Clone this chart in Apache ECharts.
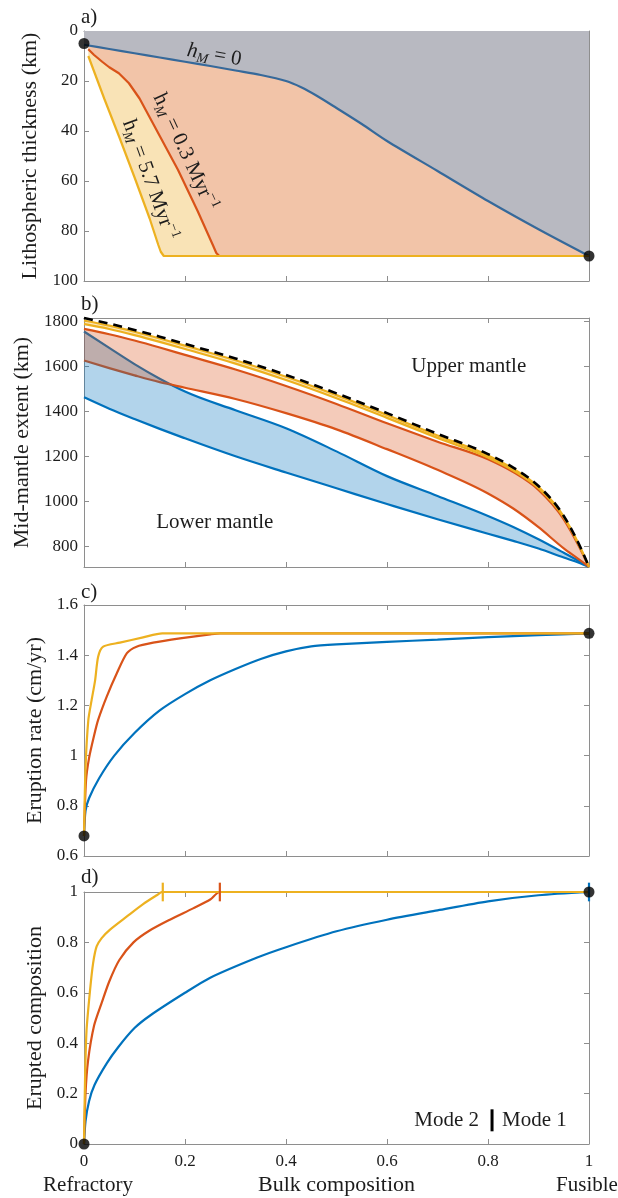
<!DOCTYPE html>
<html>
<head>
<meta charset="utf-8">
<script src="https://cdn.jsdelivr.net/npm/echarts@6/dist/echarts.min.js"></script>
<style>
  html, body { margin: 0; padding: 0; background: #fff; }
  #chart { width: 618px; height: 1198px; }
</style>
</head>
<body>
<div id="chart"></div>
<script>
// ---------------- data ----------------
const compTicks = [0, 0.2, 0.4, 0.6, 0.8, 1];

// a) lithospheric thickness (km) against bulk composition
const thickBlueX   = [0, 0.05, 0.1, 0.15, 0.2, 0.25, 0.3, 0.35, 0.4, 0.43, 0.46, 0.5, 0.55, 0.6, 0.7, 0.8, 0.9, 1];
const thickBlueY   = [5.5, 7.2, 8.9, 10.6, 12.3, 14.0, 15.8, 17.6, 20.0, 22.5, 25.8, 30.8, 37.2, 44.0, 56.0, 68.0, 79.3, 90];
const thickRedX    = [0.0085, 0.02, 0.036, 0.05, 0.069, 0.089, 0.11, 0.13, 0.15, 0.186, 0.225, 0.256, 0.262, 0.268, 1];
const thickRedY    = [7.3, 9.6, 12.3, 14.5, 16.9, 20.9, 27.0, 34.5, 42.0, 55.5, 72.0, 86.0, 88.8, 90, 90];
const thickYellowX = [0.0085, 0.04, 0.07, 0.1, 0.13, 0.147, 0.152, 0.158, 1];
const thickYellowY = [10, 27, 42.5, 58.5, 75, 85.5, 88.3, 90, 90];
const thickEnds    = [[0, 5], [1, 90]];
const thickTicks   = [0, 20, 40, 60, 80, 100];

// b) mid-mantle extent (km)
const mantleX       = [0, 0.05, 0.1, 0.15, 0.2, 0.3, 0.4, 0.5, 0.6, 0.7, 0.8, 0.85, 0.9, 0.95, 0.98, 1];
const mantleTop     = [1815, 1790, 1762, 1732, 1700, 1635, 1562, 1480, 1392, 1300, 1210, 1150, 1068, 935, 810, 708];
const yellowUpper   = [1804, 1781, 1754, 1724, 1692, 1627, 1554, 1472, 1384, 1293, 1204, 1145, 1064, 932, 808, 708];
const yellowLower   = [1788, 1766, 1739, 1709, 1677, 1612, 1539, 1458, 1371, 1282, 1195, 1137, 1058, 928, 805, 708];
const redUpper      = [1767, 1743, 1715, 1684, 1651, 1586, 1513, 1433, 1347, 1265, 1187, 1130, 1051, 920, 800, 708];
const redLower      = [1626, 1592, 1560, 1530, 1505, 1455, 1392, 1320, 1232, 1140, 1035, 968, 885, 791, 742, 708];
const blueUpper     = [1755, 1682, 1610, 1545, 1488, 1405, 1325, 1222, 1112, 1024, 935, 886, 831, 771, 734, 708];
const blueLower     = [1463, 1412, 1366, 1322, 1280, 1200, 1128, 1058, 988, 920, 856, 824, 790, 750, 727, 708];
const mantleTicks   = [800, 1000, 1200, 1400, 1600, 1800];

// c) eruption rate (cm/yr)
const rateBlueX   = [0, 0.003, 0.01, 0.03, 0.06, 0.1, 0.15, 0.2, 0.25, 0.3, 0.35, 0.4, 0.45, 0.5, 0.6, 0.7, 0.8, 0.9, 1];
const rateBlueY   = [0.68, 0.78, 0.83, 0.91, 1.0, 1.09, 1.18, 1.245, 1.30, 1.345, 1.385, 1.415, 1.435, 1.443, 1.453, 1.462, 1.472, 1.48, 1.487];
const rateRedX    = [0, 0.004, 0.01, 0.02, 0.028, 0.045, 0.065, 0.085, 0.104, 0.137, 0.19, 0.25, 0.27, 1];
const rateRedY    = [0.68, 0.90, 0.99, 1.08, 1.142, 1.235, 1.328, 1.408, 1.434, 1.45, 1.467, 1.483, 1.487, 1.487];
const rateYellowX = [0, 0.003, 0.0086, 0.015, 0.022, 0.028, 0.038, 0.071, 0.117, 0.155, 1];
const rateYellowY = [0.68, 0.95, 1.142, 1.22, 1.30, 1.394, 1.434, 1.45, 1.471, 1.487, 1.487];
const rateEnds    = [[0, 0.68], [1, 1.487]];
const rateTicks   = [0.6, 0.8, 1, 1.2, 1.4, 1.6];

// d) erupted composition
const compBlueX   = [0, 0.003, 0.01, 0.021, 0.045, 0.068, 0.1, 0.131, 0.2, 0.25, 0.343, 0.4, 0.5, 0.6, 0.7, 0.8, 0.9, 1];
const compBlueY   = [0, 0.09, 0.17, 0.235, 0.32, 0.385, 0.46, 0.51, 0.60, 0.66, 0.74, 0.781, 0.844, 0.89, 0.927, 0.963, 0.987, 1];
const compRedX    = [0, 0.003, 0.008, 0.02, 0.035, 0.05, 0.07, 0.098, 0.13, 0.17, 0.216, 0.25, 0.269, 1];
const compRedY    = [0, 0.2, 0.33, 0.47, 0.56, 0.645, 0.73, 0.8, 0.847, 0.89, 0.935, 0.97, 1, 1];
const compYellowX = [0, 0.002, 0.005, 0.012, 0.018, 0.025, 0.035, 0.051, 0.085, 0.117, 0.144, 0.155, 1];
const compYellowY = [0, 0.25, 0.45, 0.611, 0.717, 0.784, 0.817, 0.85, 0.903, 0.952, 0.987, 1, 1];
const modeSwitchX = [0.156, 0.269, 1];   // yellow, red, blue
const compEnds    = [[0, 0], [1, 1]];
const compTicksY  = [0, 0.2, 0.4, 0.6, 0.8, 1];

// ---------------- styling ----------------
const FONT = 'Liberation Serif';
const AXIS = '#8e8e8e';
const INK = '#1c1c1c';
const BLUE = '#0072bd', RED = '#d95319', YELLOW = '#edb120';

const zip = (xs, ys) => xs.map((x, i) => [x, ys[i]]);
const plain = v => String(+v.toFixed(4));

const grids = [
  { left: 84, width: 505, top: 31,  height: 250 },
  { left: 84, width: 505, top: 318, height: 249 },
  { left: 84, width: 505, top: 605, height: 251 },
  { left: 84, width: 505, top: 892, height: 252 }
];

function xAxisFor(i, pos) {
  const bottom = pos === 'bottom';
  return {
    gridIndex: i, type: 'value', position: pos, min: 0, max: 1,
    axisLine: { onZero: false, lineStyle: { color: AXIS, width: 1 } },
    axisTick: { inside: true, length: 5, lineStyle: { color: AXIS }, customValues: compTicks },
    axisLabel: {
      show: bottom && i === 3, customValues: compTicks, margin: 9, formatter: plain,
      fontFamily: FONT, fontSize: 17, color: INK
    },
    splitLine: { show: false },
    name: (bottom && i === 3) ? 'Bulk composition' : '',
    nameLocation: 'middle', nameGap: 30,
    nameTextStyle: { fontFamily: FONT, fontSize: 22, color: INK }
  };
}

const yCfg = [
  { min: 0, max: 100, inverse: true, ticks: thickTicks, name: 'Lithospheric thickness (km)', gap: 38 },
  { min: 708, max: 1815, inverse: false, ticks: mantleTicks, name: 'Mid-mantle extent (km)', gap: 44 },
  { min: 0.6, max: 1.6, inverse: false, ticks: rateTicks, name: 'Eruption rate (cm/yr)', gap: 32 },
  { min: 0, max: 1, inverse: false, ticks: compTicksY, name: 'Erupted composition', gap: 33 }
];

function yAxisFor(i, pos) {
  const c = yCfg[i];
  const left = pos === 'left';
  return {
    gridIndex: i, type: 'value', position: pos, min: c.min, max: c.max, inverse: c.inverse,
    axisLine: { onZero: false, lineStyle: { color: AXIS, width: 1 } },
    axisTick: { inside: true, length: 5, lineStyle: { color: AXIS }, customValues: c.ticks },
    axisLabel: {
      show: left, customValues: c.ticks, margin: 6, formatter: plain,
      fontFamily: FONT, fontSize: 17, color: INK
    },
    splitLine: { show: false },
    name: left ? c.name : '',
    nameLocation: 'middle', nameGap: c.gap,
    nameTextStyle: { fontFamily: FONT, fontSize: 22, color: INK }
  };
}

const xAxes = [], yAxes = [];
for (let i = 0; i < 4; i++) { xAxes.push(xAxisFor(i, 'bottom')); yAxes.push(yAxisFor(i, 'left')); }
for (let i = 0; i < 4; i++) { xAxes.push(xAxisFor(i, 'top'));    yAxes.push(yAxisFor(i, 'right')); }

function line(g, data, color, extra) {
  return Object.assign({
    type: 'line', xAxisIndex: g, yAxisIndex: g, data: data,
    symbol: 'none', silent: true, z: 3,
    lineStyle: { color: color, width: 2.2 }
  }, extra || {});
}
function dots(g, data) {
  return {
    type: 'scatter', xAxisIndex: g, yAxisIndex: g, data: data,
    symbolSize: 11, itemStyle: { color: '#000' }, clip: false, silent: true, z: 10
  };
}

// monotone cubic segments through pixel points (x increasing)
function monoSegments(p) {
  const n = p.length, m = new Array(n);
  const h = [], s = [];
  for (let i = 0; i < n - 1; i++) {
    h[i] = p[i + 1][0] - p[i][0];
    s[i] = (p[i + 1][1] - p[i][1]) / h[i];
  }
  for (let i = 1; i < n - 1; i++) {
    const q = (s[i - 1] * h[i] + s[i] * h[i - 1]) / (h[i - 1] + h[i]);
    m[i] = (Math.sign(s[i - 1]) + Math.sign(s[i])) *
      Math.min(Math.abs(s[i - 1]), Math.abs(s[i]), 0.5 * Math.abs(q)) || 0;
  }
  m[0] = n > 2 ? (3 * s[0] - m[1]) / 2 : s[0];
  m[n - 1] = n > 2 ? (3 * s[n - 2] - m[n - 2]) / 2 : s[n - 2];
  const segs = [];
  for (let i = 0; i < n - 1; i++) {
    const d = h[i] / 3;
    segs.push([p[i], [p[i][0] + d, p[i][1] + m[i] * d], [p[i + 1][0] - d, p[i + 1][1] - m[i + 1] * d], p[i + 1]]);
  }
  return segs;
}
const f = v => v.toFixed(2);
function pathOf(segs, reverse, start) {
  let d = '';
  if (!reverse) {
    d += (start ? 'M' : 'L') + f(segs[0][0][0]) + ' ' + f(segs[0][0][1]);
    segs.forEach(s => { d += 'C' + f(s[1][0]) + ' ' + f(s[1][1]) + ' ' + f(s[2][0]) + ' ' + f(s[2][1]) + ' ' + f(s[3][0]) + ' ' + f(s[3][1]); });
  } else {
    const last = segs[segs.length - 1][3];
    d += (start ? 'M' : 'L') + f(last[0]) + ' ' + f(last[1]);
    for (let k = segs.length - 1; k >= 0; k--) {
      const s = segs[k];
      d += 'C' + f(s[2][0]) + ' ' + f(s[2][1]) + ' ' + f(s[1][0]) + ' ' + f(s[1][1]) + ' ' + f(s[0][0]) + ' ' + f(s[0][1]);
    }
  }
  return d;
}

// mantle boundary curve, projected through panel b's axes
function mantleCurve(ys, style, z) {
  return {
    type: 'custom', coordinateSystem: 'cartesian2d', xAxisIndex: 1, yAxisIndex: 1,
    data: [[mantleX[0], ys[0]]], silent: true, z: z, clip: false,
    renderItem: function (params, api) {
      const pts = mantleX.map((x, i) => api.coord([x, ys[i]]));
      return { type: 'path', shape: { pathData: pathOf(monoSegments(pts), false, true) },
               style: Object.assign({ fill: 'none', lineJoin: 'round' }, style) };
    }
  };
}
// translucent band between two mantle boundaries
function mantleBand(upper, lower, color, z) {
  return {
    type: 'custom', coordinateSystem: 'cartesian2d', xAxisIndex: 1, yAxisIndex: 1,
    data: [[mantleX[0], upper[0]]], silent: true, z: z, clip: true,
    renderItem: function (params, api) {
      const pu = mantleX.map((x, i) => api.coord([x, upper[i]]));
      const pl = mantleX.map((x, i) => api.coord([x, lower[i]]));
      const d = pathOf(monoSegments(pu), false, true) + pathOf(monoSegments(pl), true, false) + 'Z';
      return { type: 'path', shape: { pathData: d }, style: { fill: color, stroke: null } };
    }
  };
}

const hidden = { lineStyle: { width: 0, opacity: 0 } };
const SM = { smooth: 0.25 };

const series = [
  // ---- a) filled regions, then boundaries
  line(0, zip(thickYellowX, thickYellowY), YELLOW, Object.assign({ z: 1, areaStyle: { color: '#f9e3b6', opacity: 1 } }, hidden)),
  line(0, zip(thickRedX, thickRedY), RED, Object.assign({ z: 1, areaStyle: { color: '#f2c4a8', opacity: 1 } }, hidden)),
  line(0, zip(thickBlueX, thickBlueY), BLUE, Object.assign({ z: 1, smooth: 0.3, areaStyle: { color: '#b8b9c1', opacity: 1 } }, hidden)),
  line(0, zip(thickBlueX, thickBlueY), '#36699a', { smooth: 0.3 }),
  line(0, zip(thickRedX, thickRedY), RED),
  line(0, zip(thickYellowX, thickYellowY), YELLOW),
  dots(0, thickEnds),

  // ---- b) boundaries first, translucent bands over them
  mantleCurve(blueLower, { stroke: BLUE, lineWidth: 2.2 }, 3),
  mantleCurve(blueUpper, { stroke: BLUE, lineWidth: 2.2 }, 3),
  mantleCurve(redLower, { stroke: RED, lineWidth: 2.2 }, 3),
  mantleCurve(redUpper, { stroke: RED, lineWidth: 2.2 }, 3),
  mantleCurve(yellowLower, { stroke: YELLOW, lineWidth: 2.2 }, 3),
  mantleCurve(yellowUpper, { stroke: YELLOW, lineWidth: 2.2 }, 3),
  mantleBand(blueUpper, blueLower, 'rgba(0,114,189,0.3)', 4),
  mantleBand(redUpper, redLower, 'rgba(217,83,25,0.3)', 5),
  mantleBand(yellowUpper, yellowLower, 'rgba(237,177,32,0.3)', 5),
  mantleCurve(mantleTop, { stroke: '#000', lineWidth: 2.6, lineDash: [9, 6] }, 8),

  // ---- c) eruption rate
  line(2, zip(rateBlueX, rateBlueY), BLUE, SM),
  line(2, zip(rateRedX, rateRedY), RED, SM),
  line(2, zip(rateYellowX, rateYellowY), YELLOW, SM),
  dots(2, rateEnds),

  // ---- d) erupted composition
  line(3, zip(compBlueX, compBlueY), BLUE, SM),
  line(3, zip(compRedX, compRedY), RED, SM),
  line(3, zip(compYellowX, compYellowY), YELLOW, SM),
  dots(3, compEnds)
];

// short vertical marks where each curve switches mode
[YELLOW, RED, BLUE].forEach((c, k) => {
  series.push(line(3, [[modeSwitchX[k], 0.963], [modeSwitchX[k], 1.037]], c,
    { clip: false, z: 6, lineStyle: { color: c, width: 2.2 } }));
});

const chart = echarts.init(document.getElementById('chart'), null, { renderer: 'canvas' });
chart.setOption({
  animation: false,
  backgroundColor: '#fff',
  grid: grids,
  xAxis: xAxes,
  yAxis: yAxes,
  series: series
});

// ---------------- annotations ----------------
const px = (g, p) => chart.convertToPixel({ gridIndex: g }, p);
const txt = (x, y, text, align) => ({
  type: 'text', x: x, y: y, silent: true, z: 20,
  style: { text: text, fill: INK, font: '21px "Liberation Serif"', align: align || 'center', verticalAlign: 'middle' }
});

const richBase = {
  hi: { fontFamily: FONT, fontSize: 21, fontStyle: 'italic', fill: INK, lineHeight: 26, verticalAlign: 'middle' },
  hr: { fontFamily: FONT, fontSize: 21, fill: INK, lineHeight: 26, verticalAlign: 'middle' },
  sub: { fontFamily: FONT, fontSize: 14, fontStyle: 'italic', fill: INK, lineHeight: 14, verticalAlign: 'bottom' },
  t: { fontFamily: FONT, fontSize: 21, fill: INK, lineHeight: 26, verticalAlign: 'middle' },
  sup: { fontFamily: FONT, fontSize: 14, fill: INK, lineHeight: 14, verticalAlign: 'top' }
};
const deg = d => d * Math.PI / 180;

const l0 = px(0, [0.258, 9.6]);
const l1 = px(0, [0.2, 48.4]);
const l2 = px(0, [0.13, 59.6]);
const up = px(1, [0.762, 1598]);
const lo = px(1, [0.259, 908]);
const bar = px(3, [0.808, 0.094]);
const xr0 = px(3, [0, 0]);
const xr1 = px(3, [1, 0]);

const graphics = [
  txt(81, 17, 'a)', 'left'),
  txt(81, 304, 'b)', 'left'),
  txt(81, 592, 'c)', 'left'),
  txt(81, 877, 'd)', 'left'),
  { type: 'text', x: l0[0], y: l0[1], rotation: deg(-10), z: 20, silent: true,
    style: { text: '{hi|h}{sub|M}{t| = 0}', rich: richBase, align: 'center', verticalAlign: 'middle' } },
  { type: 'text', x: l1[0], y: l1[1], rotation: deg(-65), z: 20, silent: true,
    style: { text: '{hr|h}{sub|M}{t| = 0.3 Myr}{sup|−1}', rich: richBase, align: 'center', verticalAlign: 'middle' } },
  { type: 'text', x: l2[0], y: l2[1], rotation: deg(-70), z: 20, silent: true,
    style: { text: '{hr|h}{sub|M}{t| = 5.7 Myr}{sup|−1}', rich: richBase, align: 'center', verticalAlign: 'middle' } },
  txt(up[0], up[1], 'Upper mantle'),
  txt(lo[0], lo[1], 'Lower mantle'),
  txt(bar[0] - 13, bar[1], 'Mode 2', 'right'),
  { type: 'rect', z: 20, silent: true, shape: { x: bar[0] - 1.5, y: bar[1] - 11, width: 3, height: 22 }, style: { fill: '#000' } },
  txt(bar[0] + 10, bar[1], 'Mode 1', 'left'),
  txt(xr0[0] + 4, 1185, 'Refractory'),
  txt(xr1[0] - 2, 1185, 'Fusible')
];
chart.setOption({ graphic: graphics });
</script>
</body>
</html>
